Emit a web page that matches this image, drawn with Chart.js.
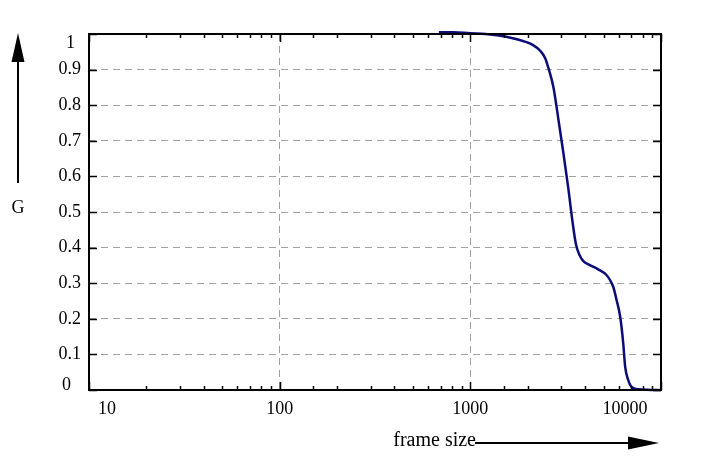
<!DOCTYPE html>
<html>
<head>
<meta charset="utf-8">
<script src="https://cdn.jsdelivr.net/npm/chart.js@4"></script>
<style>
  html, body { margin: 0; padding: 0; background: #fff; }
  #wrap { width: 710px; height: 461px; }
</style>
</head>
<body>
<div id="wrap"><canvas id="chart" width="710" height="461"></canvas></div>
<script>
// curve: frame size vs G
const frameSize = [684, 818, 1000, 1200, 1408, 1646, 1948, 2145, 2325, 2470, 2569, 2729, 2897, 3078, 3268, 3430, 3578, 3732, 3916, 4234, 4679, 5176, 5401, 5617, 5847, 6112, 6336, 6488, 6730, 7003, 7594, 9660, 10000];
const gValues = [1.005, 1.005, 1.002, 1.0, 0.996, 0.989, 0.978, 0.968, 0.953, 0.932, 0.904, 0.85, 0.76, 0.665, 0.565, 0.475, 0.41, 0.38, 0.362, 0.351, 0.339, 0.323, 0.309, 0.290, 0.253, 0.205, 0.132, 0.065, 0.028, 0.009, 0.002, 0.0, 0.0];

const xTickLabels = ["10", "100", "1000", "10000"];
const yTickLabels = ["0", "0.1", "0.2", "0.3", "0.4", "0.5", "0.6", "0.7", "0.8", "0.9", "1"];

const xTitle = "frame size";
const yTitle = "G";

const FONT = "'Liberation Serif', 'DejaVu Serif', serif";

const isDecade = (v) => Math.abs(Math.log10(v) - Math.round(Math.log10(v))) < 1e-9;

// the end labels sit inside the frame in the original
const labelNudge = {
  x: { "10": [18, 0], "10000": [-36, 0] },
  y: { "1": [-6, 9], "0": [-10, -5] },
};

const nudgePlugin = {
  id: "nudge",
  beforeDraw(chart) {
    for (const id of ["x", "y"]) {
      const items = chart.scales[id].getLabelItems();
      for (const it of items) {
        const d = labelNudge[id][it.label];
        if (d && !it._nudged) {
          it.options.translation[0] += d[0];
          it.options.translation[1] += d[1];
          it._nudged = true;
        }
      }
    }
  }
};

// frame, tick marks and the two arrow titles
const framePlugin = {
  id: "frame",
  afterDraw(chart) {
    const { ctx, chartArea: a, scales } = chart;
    const xs = scales.x, ys = scales.y;
    ctx.save();
    ctx.strokeStyle = "#000";
    ctx.lineWidth = 1.5;
    ctx.beginPath();
    for (const t of xs.ticks) {
      const px = Math.round(xs.getPixelForValue(t.value)) + 0.5;
      const len = isDecade(t.value) ? 8 : 4;
      ctx.moveTo(px, a.bottom); ctx.lineTo(px, a.bottom - len);
      ctx.moveTo(px, a.top); ctx.lineTo(px, a.top + len);
    }
    for (const t of ys.ticks) {
      const py = Math.round(ys.getPixelForValue(t.value)) + 0.5;
      ctx.moveTo(a.left, py); ctx.lineTo(a.left + 8, py);
      ctx.moveTo(a.right, py); ctx.lineTo(a.right - 8, py);
    }
    ctx.stroke();

    ctx.lineWidth = 2;
    ctx.strokeRect(a.left, a.top, a.right - a.left, a.bottom - a.top);

    // y title with upward arrow
    ctx.fillStyle = "#000";
    ctx.lineWidth = 2;
    ctx.beginPath();
    ctx.moveTo(18, 183); ctx.lineTo(18, 58);
    ctx.stroke();
    ctx.beginPath();
    ctx.moveTo(18, 33); ctx.lineTo(24.5, 62); ctx.lineTo(11.5, 62); ctx.closePath();
    ctx.fill();
    ctx.font = "18px " + FONT;
    ctx.textAlign = "center";
    ctx.textBaseline = "middle";
    ctx.fillText(yTitle, 18, 208);

    // x title with right arrow
    ctx.font = "20px " + FONT;
    ctx.textAlign = "right";
    ctx.fillText(xTitle, 476, 441);
    ctx.beginPath();
    ctx.moveTo(475, 443); ctx.lineTo(632, 443);
    ctx.stroke();
    ctx.beginPath();
    ctx.moveTo(659, 443); ctx.lineTo(628, 436.5); ctx.lineTo(628, 449.5); ctx.closePath();
    ctx.fill();
    ctx.restore();
  }
};

const ctx = document.getElementById("chart").getContext("2d");
const chart = new Chart(ctx, {
  type: "line",
  data: {
    datasets: [
      {
        data: frameSize.map((x, i) => ({ x: x, y: gValues[i] })),
        borderColor: "#0c0c78",
        borderWidth: 2.5,
        pointRadius: 0,
        fill: false,
        cubicInterpolationMode: "monotone",
        clip: 4,
      },
    ],
  },
  options: {
    responsive: false,
    animation: false,
    events: [],
    layout: { padding: { left: 0, right: 49, top: 34, bottom: 0 } },
    plugins: { legend: { display: false }, tooltip: { enabled: false } },
    scales: {
      x: {
        type: "logarithmic",
        min: 10,
        max: 10000,
        afterFit: (s) => { s.height = 71; },
        border: { display: false, dash: [7, 5] },
        grid: {
          drawTicks: false,
          lineWidth: 1,
          color: (c) => (c.tick && (c.tick.value === 100 || c.tick.value === 1000)) ? "#a0a0a0" : "rgba(0,0,0,0)",
        },
        ticks: {
          autoSkip: false,
          maxRotation: 0,
          padding: 8,
          color: "#000",
          font: { family: FONT, size: 18 },
          callback: (v) => {
            const i = xTickLabels.indexOf(String(v));
            return i >= 0 ? xTickLabels[i] : "";
          },
        },
      },
      y: {
        min: 0,
        max: 1,
        afterFit: (s) => { s.width = 89; },
        afterBuildTicks: (s) => { s.ticks = yTickLabels.map((l) => ({ value: Number(l) })); },
        border: { display: false, dash: [7, 5] },
        grid: {
          drawTicks: false,
          lineWidth: 1,
          color: (c) => (c.tick && c.tick.value > 0 && c.tick.value < 1) ? "#a0a0a0" : "rgba(0,0,0,0)",
        },
        ticks: {
          padding: 8,
          color: "#000",
          font: { family: FONT, size: 18 },
          callback: (v, i) => yTickLabels[i],
        },
      },
    },
  },
  plugins: [nudgePlugin, framePlugin],
});
</script>
</body>
</html>
